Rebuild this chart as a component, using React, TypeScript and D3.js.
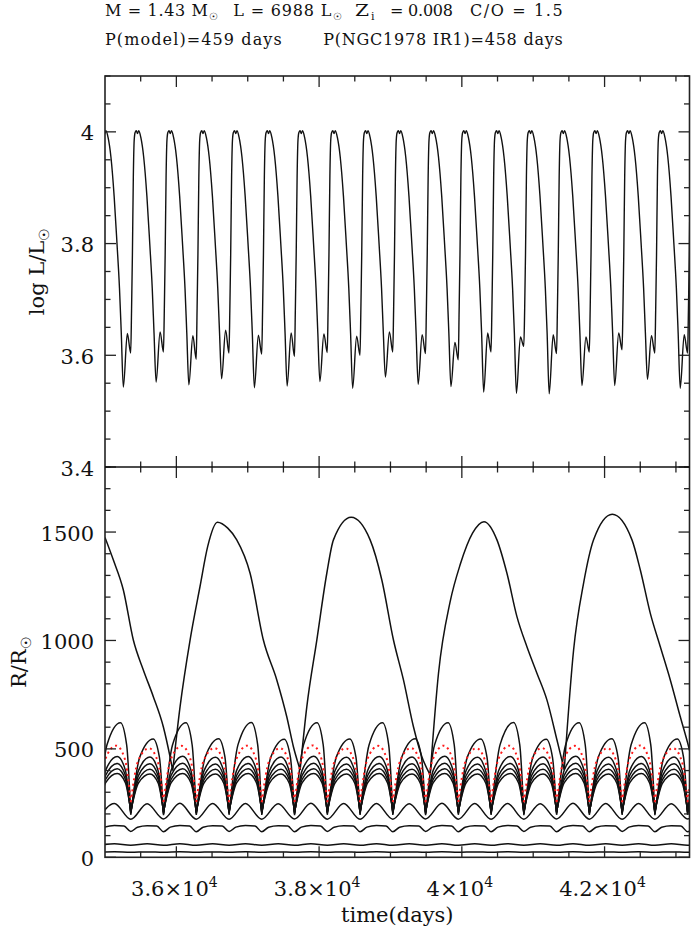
import React from 'react';
import * as d3 from 'd3';

const WIDTH = 692;
const HEIGHT = 929;

// ---------- axes ----------
const timeDomain = [35000, 43190];
const logLDomain = [3.4, 4.1];
const radiusDomain = [0, 1800];
const timeTickValues = [36000, 38000, 40000, 42000];
const timeTickMantissas = ['3.6', '3.8', '4', '4.2'];
const logLTickValues = [3.4, 3.6, 3.8, 4];
const logLTickLabels = ['3.4', '3.6', '3.8', '4'];
const radiusTickValues = [0, 500, 1000, 1500];
const radiusTickLabels = ['0', '500', '1000', '1500'];

// ---------- luminosity: one entry per pulsation cycle ----------
const lMinTimes = [34798, 35257, 35716, 36175, 36634, 37093, 37552, 38011, 38470, 38929, 39388, 39847, 40306, 40765, 41224, 41683, 42142, 42601, 43060];
const lMinValues = [3.545, 3.543, 3.552, 3.547, 3.558, 3.542, 3.545, 3.553, 3.541, 3.561, 3.548, 3.544, 3.534, 3.532, 3.531, 3.546, 3.546, 3.557, 3.541];
const lBumpValues = [3.64, 3.639, 3.642, 3.635, 3.645, 3.636, 3.64, 3.638, 3.634, 3.642, 3.637, 3.623, 3.64, 3.633, 3.637, 3.633, 3.64, 3.635, 3.637];
const lDipValues = [3.6, 3.604, 3.606, 3.593, 3.604, 3.602, 3.598, 3.605, 3.6, 3.606, 3.603, 3.592, 3.606, 3.616, 3.603, 3.606, 3.61, 3.604, 3.604];
const lBumpOffset = 56;
const lDipOffset = 103;
// days after minimum / log L of the rise, maximum and decline within a cycle
const lProfileOffsets = [115, 127, 140, 152, 165, 182, 198, 216, 245, 285, 330, 370, 405, 430];
const lProfileValues = [3.68, 3.78, 3.92, 3.985, 3.999, 4.002, 3.997, 4.002, 3.99, 3.955, 3.885, 3.8, 3.72, 3.64];

// ---------- radii ----------
const rMinTimes = [34902, 35361, 35820, 36279, 36738, 37197, 37656, 38115, 38574, 39033, 39492, 39951, 40410, 40869, 41328, 41787, 42246, 42705, 43164, 43623];

const shellAPeaks = [621, 546, 620, 547, 622, 545, 621, 546, 620, 547, 621, 546, 622, 545, 620, 547, 621, 546, 620];
const shellAMins = [195, 196, 194, 195, 196, 195, 194, 196, 195, 195, 194, 196, 195, 194, 196, 195, 195, 194, 196, 195];
const shellALag = 85;

const photoPeaks = [515, 503, 514, 504, 515, 503, 516, 503, 514, 504, 515, 503, 515, 504, 514, 503, 516, 503, 515];
const photoMins = [255, 254, 256, 255, 254, 255, 256, 254, 255, 255, 254, 256, 255, 254, 255, 256, 254, 255, 255, 254];
const photoLag = 25;

const shellBPeaks = [465, 462, 466, 461, 465, 462, 466, 461, 465, 462, 466, 461, 465, 462, 466, 461, 465, 462, 465];
const shellBMins = [201, 202, 200, 201, 202, 201, 200, 202, 201, 201, 200, 202, 201, 200, 202, 201, 201, 200, 202, 201];
const shellCPeaks = [433, 431, 434, 430, 433, 431, 434, 430, 433, 431, 434, 430, 433, 431, 434, 430, 433, 431, 433];
const shellCMins = [205, 206, 204, 205, 206, 205, 204, 206, 205, 205, 204, 206, 205, 204, 206, 205, 205, 204, 206, 205];
const shellDPeaks = [408, 406, 408, 406, 408, 406, 408, 406, 408, 406, 408, 406, 408, 406, 408, 406, 408, 406, 408];
const shellDMins = [208, 209, 208, 208, 209, 208, 208, 209, 208, 208, 208, 209, 208, 208, 209, 208, 208, 208, 209, 208];
const shellEPeaks = [386, 384, 386, 384, 386, 384, 386, 384, 386, 384, 386, 384, 386, 384, 386, 384, 386, 384, 386];
const shellEMins = [212, 212, 211, 212, 212, 212, 211, 212, 212, 212, 211, 212, 212, 211, 212, 212, 212, 211, 212, 212];
const innerLag = 40;

const shellFCrests = [248, 247, 249, 248, 248, 247, 249, 248, 248, 247, 249, 248, 248, 247, 249, 248, 248, 247, 248];
const shellFTroughs = [176, 175, 177, 176, 175, 176, 177, 176, 175, 176, 177, 176, 175, 176, 177, 176, 175, 176, 177, 176];
const shellGCrests = [147, 146, 147, 146, 147, 146, 147, 146, 147, 146, 147, 146, 147, 146, 147, 146, 147, 146, 147];
const shellGTroughs = [118, 119, 118, 118, 119, 118, 118, 119, 118, 118, 119, 118, 118, 119, 118, 118, 119, 118, 118, 119];
const shellGShoulders = [144, 139];
const shellHCrests = [63, 62, 63, 62, 63, 62, 63, 62, 63, 62, 63, 62, 63, 62, 63, 62, 63, 62, 63];
const shellHTroughs = [55, 56, 55, 55, 56, 55, 55, 56, 55, 55, 56, 55, 55, 56, 55, 55, 56, 55, 55, 56];
const shellICrests = [26, 25, 26, 25, 26, 25, 26, 25, 26, 25, 26, 25, 26, 25, 26, 25, 26, 25, 26];
const shellITroughs = [23, 23, 23, 23, 23, 23, 23, 23, 23, 23, 23, 23, 23, 23, 23, 23, 23, 23, 23, 23];

// outermost shell: [time (days), R/Rsun]
const outerShell: [number, number][] = [
  [35000, 1475], [35116, 1372], [35257, 1233], [35397, 1002], [35537, 864], [35677, 741], [35817, 602], [35911, 464], [35949, 400],
  [36052, 695], [36192, 1002], [36332, 1250], [36440, 1435], [36575, 1545], [36720, 1518], [36846, 1464], [37033, 1310], [37219, 1002], [37407, 818], [37547, 648], [37640, 510], [37734, 403],
  [37828, 695], [37968, 1002], [38108, 1310], [38201, 1464], [38449, 1568], [38715, 1464], [38879, 1279], [39042, 1002], [39182, 818], [39322, 602], [39440, 464], [39556, 380],
  [39673, 849], [39837, 1180], [39977, 1350], [40150, 1495], [40310, 1548], [40492, 1464], [40632, 1310], [40772, 1110], [40912, 971], [41052, 849], [41193, 725], [41333, 541], [41435, 403],
  [41566, 956], [41706, 1264], [41846, 1464], [42108, 1582], [42384, 1464], [42501, 1325], [42641, 1125], [42781, 971], [42921, 818], [43061, 648], [43178, 510], [43230, 440],
];

// ---------- layout ----------
const LEFT = 105;
const RIGHT = 689.5;
const TOP = 76;
const MID = 467;
const BOTTOM = 857.3;
const FONT = "'DejaVu Serif', serif";
const ARCH_SHOULDER_T = 0.4;
const ARCH_SHOULDER_H = 0.76;

export default function App() {
  const x = d3.scaleLinear().domain(timeDomain).range([LEFT, RIGHT]);
  const yL = d3.scaleLinear().domain(logLDomain).range([MID, TOP]);
  const yR = d3.scaleLinear().domain(radiusDomain).range([BOTTOM, MID]);

  // luminosity curve
  const lPoints: [number, number][] = [];
  lMinTimes.forEach((t, k) => {
    lPoints.push([t, lMinValues[k]]);
    lPoints.push([t + lBumpOffset, lBumpValues[k]]);
    lPoints.push([t + lDipOffset, lDipValues[k]]);
    lProfileOffsets.forEach((o, i) => lPoints.push([t + o, lProfileValues[i]]));
  });
  const lLine = d3.line<[number, number]>().x(d => x(d[0])).y(d => yL(d[1])).curve(d3.curveMonotoneX);
  const lPath = lLine(lPoints) || '';

  const rLine = d3.line<[number, number]>().x(d => x(d[0])).y(d => yR(d[1])).curve(d3.curveMonotoneX);

  const archPath = (peaks: number[], mins: number[], lag: number) => {
    let s = '';
    for (let j = 0; j < peaks.length; j++) {
      const t0 = rMinTimes[j];
      const t1 = rMinTimes[j + 1];
      const tp = (t0 + t1) / 2 + lag;
      const p = peaks[j];
      const m0 = mins[j];
      const m1 = mins[j + 1];
      s += rLine([
        [t0, m0],
        [t0 + (tp - t0) * ARCH_SHOULDER_T, m0 + (p - m0) * ARCH_SHOULDER_H],
        [tp, p],
        [t1 - (t1 - tp) * ARCH_SHOULDER_T, m1 + (p - m1) * ARCH_SHOULDER_H],
        [t1, m1],
      ]) || '';
    }
    return s;
  };

  const wavePath = (crests: number[], troughs: number[], shoulders?: number[]) => {
    const pts: [number, number][] = [];
    for (let j = 0; j < rMinTimes.length; j++) {
      const t = rMinTimes[j];
      if (shoulders) pts.push([t - 95, shoulders[0]]);
      pts.push([t, troughs[j]]);
      if (shoulders) pts.push([t + 95, shoulders[1]]);
      if (j < crests.length) pts.push([(t + rMinTimes[j + 1]) / 2, crests[j]]);
    }
    return rLine(pts) || '';
  };

  // outermost shell: split at cusps (local minima)
  const outerSegments: [number, number][][] = [];
  let seg: [number, number][] = [];
  outerShell.forEach((p, i) => {
    seg.push(p);
    const prev = outerShell[i - 1];
    const next = outerShell[i + 1];
    if (prev && next && p[1] < prev[1] && p[1] < next[1]) {
      outerSegments.push(seg);
      seg = [p];
    }
  });
  outerSegments.push(seg);
  const outerPath = outerSegments.map(s => rLine(s) || '').join('');

  const blackArches = [
    archPath(shellAPeaks, shellAMins, shellALag),
    archPath(shellBPeaks, shellBMins, innerLag),
    archPath(shellCPeaks, shellCMins, innerLag),
    archPath(shellDPeaks, shellDMins, innerLag),
    archPath(shellEPeaks, shellEMins, innerLag),
  ];
  const waves = [
    wavePath(shellFCrests, shellFTroughs),
    wavePath(shellGCrests, shellGTroughs, shellGShoulders),
    wavePath(shellHCrests, shellHTroughs),
    wavePath(shellICrests, shellITroughs),
  ];
  const photoPath = archPath(photoPeaks, photoMins, photoLag);

  // ticks
  const MAJ = 11;
  const MIN = 5.5;
  const tickColor = '#222';
  const ticks: JSX.Element[] = [];
  const timeTicks = d3.range(35500, timeDomain[1], 500);
  timeTicks.forEach((t, i) => {
    const len = t % 2000 === 0 ? MAJ : MIN;
    const xx = x(t);
    [[BOTTOM, -1], [MID, 1], [MID, -1], [TOP, 1]].forEach(([y0, dir], k) => {
      ticks.push(<line key={`xt${i}-${k}`} x1={xx} x2={xx} y1={y0} y2={y0 + dir * len} stroke={tickColor} strokeWidth={1.3} />);
    });
  });
  d3.range(68, 83).forEach(i => {
    const v = i * 0.05;
    const len = i % 4 === 0 ? MAJ : MIN;
    const yy = yL(v);
    ticks.push(<line key={`lt${i}a`} x1={LEFT} x2={LEFT + len} y1={yy} y2={yy} stroke={tickColor} strokeWidth={1.3} />);
    ticks.push(<line key={`lt${i}b`} x1={RIGHT} x2={RIGHT - len} y1={yy} y2={yy} stroke={tickColor} strokeWidth={1.3} />);
  });
  d3.range(0, 1801, 100).forEach(v => {
    const len = v % 500 === 0 ? MAJ : MIN;
    const yy = yR(v);
    ticks.push(<line key={`rt${v}a`} x1={LEFT} x2={LEFT + len} y1={yy} y2={yy} stroke={tickColor} strokeWidth={1.3} />);
    ticks.push(<line key={`rt${v}b`} x1={RIGHT} x2={RIGHT - len} y1={yy} y2={yy} stroke={tickColor} strokeWidth={1.3} />);
  });

  const textFill = '#111';

  return (
    <svg width={WIDTH} height={HEIGHT} style={{ position: 'absolute', left: 0, top: 0, background: '#fff' }} fontFamily={FONT}>
      <defs>
        <clipPath id="clipTop"><rect x={LEFT} y={TOP} width={RIGHT - LEFT} height={MID - TOP} /></clipPath>
        <clipPath id="clipBottom"><rect x={LEFT} y={MID} width={RIGHT - LEFT} height={BOTTOM - MID} /></clipPath>
      </defs>
      <rect x={0} y={0} width={WIDTH} height={HEIGHT} fill="#fff" />

      {/* header */}
      <g fontSize={16} fill={textFill} style={{ whiteSpace: 'pre' }}>
        <text x={105} y={16} textLength={103} lengthAdjust="spacing">M = 1.43 M</text>
        <text x={208.5} y={20} fontSize={10}>☉</text>
        <text x={233.3} y={16} textLength={98} lengthAdjust="spacing">L = 6988 L</text>
        <text x={332.5} y={20} fontSize={10}>☉</text>
        <text x={355} y={16} textLength={14} lengthAdjust="spacingAndGlyphs">Z</text>
        <text x={371} y={20} fontSize={11}>i</text>
        <text x={390} y={16} textLength={63} lengthAdjust="spacing">= 0.008</text>
        <text x={470} y={16} textLength={92.7} lengthAdjust="spacing">C/O = 1.5</text>
        <text x={105} y={45} textLength={176.7} lengthAdjust="spacing">P(model)=459 days</text>
        <text x={323.3} y={45} textLength={239.4} lengthAdjust="spacing">P(NGC1978 IR1)=458 days</text>
      </g>

      {/* data */}
      <g clipPath="url(#clipTop)">
        <path d={lPath} fill="none" stroke="#111" strokeWidth={1.4} strokeLinejoin="round" />
      </g>
      <g clipPath="url(#clipBottom)" fill="none" strokeLinejoin="round">
        <path d={outerPath} stroke="#111" strokeWidth={1.5} />
        {blackArches.map((d, i) => <path key={`a${i}`} d={d} stroke="#111" strokeWidth={1.5} />)}
        {waves.map((d, i) => <path key={`w${i}`} d={d} stroke="#111" strokeWidth={1.5} />)}
        <path d={photoPath} stroke="#ff1a1a" strokeWidth={2} strokeDasharray="2 3.5" />
      </g>

      {/* frame and ticks */}
      {ticks}
      <rect x={LEFT} y={TOP} width={RIGHT - LEFT} height={BOTTOM - TOP} fill="none" stroke="#222" strokeWidth={1.6} />
      <line x1={LEFT} x2={RIGHT} y1={MID} y2={MID} stroke="#111" strokeWidth={1.6} />

      {/* tick labels */}
      <g fontSize={21} fill={textFill}>
        {logLTickValues.map((v, i) => (
          <text key={`ll${i}`} x={94} y={yL(v) + 8.5} textAnchor="end">{logLTickLabels[i]}</text>
        ))}
        {radiusTickValues.map((v, i) => (
          <text key={`rl${i}`} x={94} y={yR(v) + 8.5} textAnchor="end">{radiusTickLabels[i]}</text>
        ))}
        {timeTickValues.map((v, i) => (
          <text key={`tl${i}`} x={x(v) - 2} y={896} textAnchor="middle">
            {timeTickMantissas[i]}×10<tspan dy={-9} fontSize={14}>4</tspan>
          </text>
        ))}
        <text x={(LEFT + RIGHT) / 2} y={922} textAnchor="middle">time(days)</text>
        <text transform={`translate(43.5, ${(TOP + MID) / 2}) rotate(-90)`} textAnchor="middle">
          log L/L<tspan dy={5} fontSize={14}>☉</tspan>
        </text>
        <text transform={`translate(26, ${(MID + BOTTOM) / 2}) rotate(-90)`} textAnchor="middle">
          R/R<tspan dy={5} fontSize={14}>☉</tspan>
        </text>
      </g>
    </svg>
  );
}
